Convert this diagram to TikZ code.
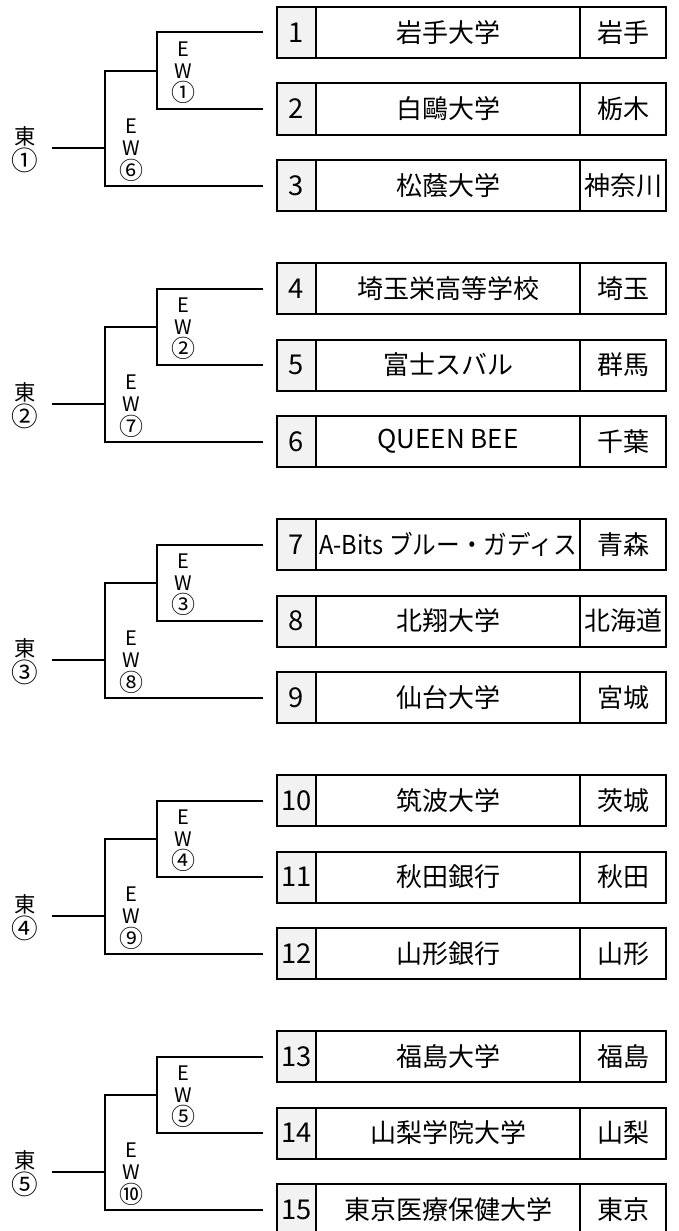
\documentclass[tikz,border=0pt]{standalone}
\usepackage{fontspec}
\setmainfont{Noto Sans CJK JP}
\definecolor{numgray}{HTML}{F2F2F2}
\begin{document}
\begin{tikzpicture}[x=0.75pt,y=-0.75pt,line width=1.5pt,
  cellbase/.style={draw,line width=1.5pt,anchor=north west,inner sep=0pt,outer sep=0pt,minimum height=38.25pt},
  numcell/.style={cellbase,fill=numgray,minimum width=29.25pt,font=\fontsize{20.5}{22}\selectfont},
  namecell/.style={cellbase,fill=white,minimum width=198pt,font=\fontsize{19.5}{22}\selectfont},
  prefcell/.style={cellbase,fill=white,minimum width=64.5pt,font=\fontsize{19.5}{22}\selectfont},
  eastlab/.style={inner sep=0pt,font=\fontsize{16}{18}\selectfont},
  eastcirc/.style={inner sep=0pt,font=\fontsize{20}{20}\selectfont},
  ewlab/.style={inner sep=0pt,font=\fontsize{15}{16}\selectfont},
  ewcirc/.style={inner sep=0pt,font=\fontsize{18}{18}\selectfont}]
\useasboundingbox (0,0) rectangle (678,1231);
\foreach \i/\nm/\pf in {1/岩手大学/岩手,2/白鷗大学/栃木,3/松蔭大学/神奈川,
  4/埼玉栄高等学校/埼玉,5/富士スバル/群馬,6/QUEEN BEE/千葉,
  7/{\scalebox{0.91}[1]{A-Bits ブルー・ガディス}}/青森,8/北翔大学/北海道,9/仙台大学/宮城,
  10/筑波大学/茨城,11/秋田銀行/秋田,12/山形銀行/山形,
  13/福島大学/福島,14/山梨学院大学/山梨,15/東京医療保健大学/東京}{
  \pgfmathsetmacro{\top}{7+256*floor((\i-1)/3)+76.5*mod(\i-1,3)}
  \node[numcell] (n\i) at (277,\top) {\i};
  \node[namecell] (m\i) at (n\i.north east) {\nm};
  \node[prefcell] (p\i) at (m\i.north east) {\pf};
}
\foreach \g/\inn/\out in {0/①/⑥,1/②/⑦,2/③/⑧,3/④/⑨,4/⑤/⑩}{
  \pgfmathsetmacro{\o}{256*\g}
  \pgfmathtruncatemacro{\a}{3*\g+1}
  \pgfmathtruncatemacro{\b}{3*\g+2}
  \pgfmathtruncatemacro{\c}{3*\g+3}
  \coordinate (s\g) at (157,70.75+\o);
  \coordinate (j\g) at (105,148+\o);
  \coordinate (e\g) at (52,148+\o);
  \draw ([xshift=-10.5pt]n\a.west) -| (s\g) |- ([xshift=-10.5pt]n\b.west);
  \draw (s\g) -| (j\g) |- ([xshift=-10.5pt]n\c.west);
  \draw (e\g) -- (j\g);
  \node[eastlab] (La\g) at (25,136+\o) {東};
  \node[eastcirc] (Lb\g) at (25,160.5+\o) {\inn};
  \node[ewlab] (Ia\g) at (183,49+\o) {E};
  \node[ewlab] (Ib\g) at (183,71+\o) {W};
  \node[ewcirc] (Ic\g) at (183,92.5+\o) {\inn};
  \node[ewlab] (Oa\g) at (131,126+\o) {E};
  \node[ewlab] (Ob\g) at (131,148+\o) {W};
  \node[ewcirc] (Oc\g) at (131,170.5+\o) {\out};
}
\end{tikzpicture}
\end{document}
